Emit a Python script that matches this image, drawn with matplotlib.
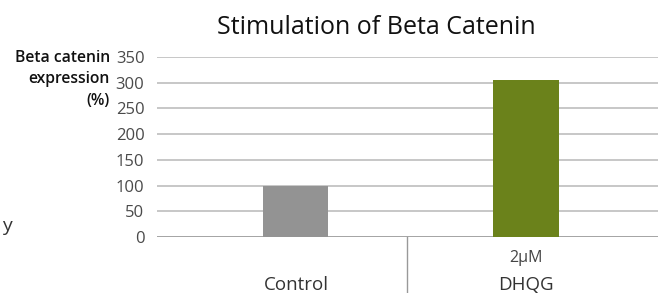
import matplotlib.pyplot as plt
import numpy as np

categories = ["Control", "DHQG"]
doses = ["", "2µM"]
values = [100, 305]
bar_colors = ["#939393", "#6b821b"]
yticks = [0, 50, 100, 150, 200, 250, 300, 350]

plt.rcParams['font.family'] = ['Open Sans', 'DejaVu Sans']

fig = plt.figure(figsize=(6.65, 2.93), dpi=100)
ax = fig.add_axes([157 / 665, 56 / 293, 501 / 665, 180 / 293])

x = np.arange(len(categories))
ax.bar(x, values, width=0.283, color=bar_colors, zorder=3)

ax.set_ylim(0, 350)
ax.set_xlim(-0.604, 1.574)
ax.set_yticks(yticks)
ax.set_yticklabels([str(t) for t in yticks], fontsize=12, color="#4a4a4a")
ax.tick_params(axis="y", length=0, pad=9)
ax.set_xticks([])
ax.grid(axis="y", color="#bdbdbd", linewidth=1.2, zorder=0)
for s in ax.spines.values():
    s.set_visible(False)
ax.axhline(0, color="#a0a0a0", linewidth=1.2, zorder=2)

# separator between groups, running below the axis
ax.plot([0.483, 0.483], [0, -0.32], transform=ax.get_xaxis_transform(),
        color="#999999", linewidth=1, clip_on=False)

for xi, cat, dose in zip(x, categories, doses):
    if dose:
        ax.text(xi, -0.115, dose, transform=ax.get_xaxis_transform(),
                ha="center", va="center", fontsize=11.5, color="#444444")
    ax.text(xi, -0.265, cat, transform=ax.get_xaxis_transform(),
            ha="center", va="center", fontsize=13.5, color="#333333")

fig.text(376 / 665, 1 - 27 / 293, "Stimulation of Beta Catenin",
         ha="center", va="center", fontsize=18, color="#111111")
fig.text(110 / 665, 1 - 50 / 293, "Beta catenin\nexpression\n(%)",
         ha="right", va="top", fontsize=11.3, fontweight="semibold",
         color="#111111", linespacing=1.45)
fig.text(2 / 665, 1 - 226 / 293, "y", ha="left", va="center",
         fontsize=14, color="#333333")

fig.savefig("out.png", dpi=100)
